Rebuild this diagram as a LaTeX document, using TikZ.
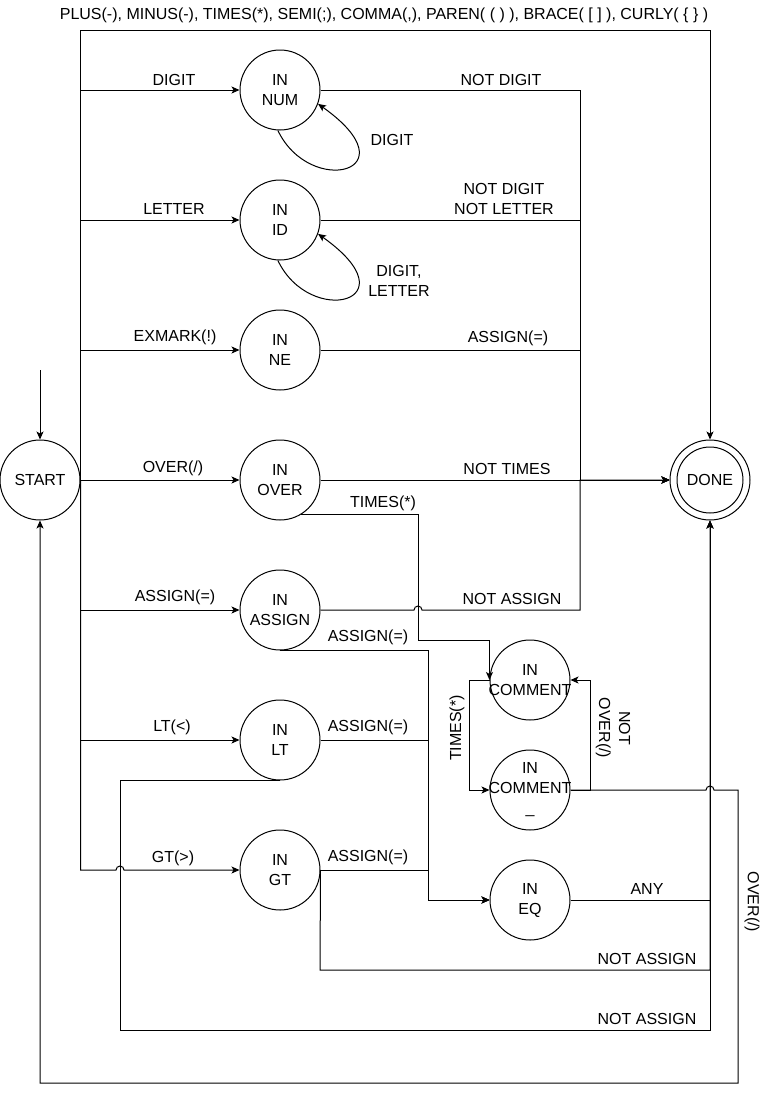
\documentclass[tikz,border=0pt]{standalone}
\usepackage{fontspec}
\setmainfont{Liberation Sans}
\usetikzlibrary{arrows.meta}
\begin{document}
\begin{tikzpicture}[x=1pt,y=-1pt,
  every node/.style={font=\fontsize{16}{20}\selectfont},
  state/.style={circle,draw,line width=1pt,minimum size=80pt,inner sep=0pt,align=center},
  wire/.style={draw,line width=1pt},
  arr/.style={wire,-{Stealth[length=8pt,width=7pt,inset=2pt]}},
  lbl/.style={inner sep=0pt,align=center}]
\fill[white] (0,0) rectangle (771,1093);
\useasboundingbox (0,0) rectangle (771,1093);

% states
\node[state] (start) at (40,480) {START};
\node[state] (num) at (280,90) {IN\\NUM};
\node[state] (id) at (280,220) {IN\\ID};
\node[state] (ne) at (280,350) {IN\\NE};
\node[state] (over) at (280,480) {IN\\OVER};
\node[state] (assign) at (280,610) {IN\\ASSIGN};
\node[state] (lt) at (280,740) {IN\\LT};
\node[state] (gt) at (280,870) {IN\\GT};
\node[state, label={[lbl]center:IN\\COMMENT}] (comment) at (530,680) {};
\node[state, label={[lbl]center:IN\\COMMENT\\\_}] (comment2) at (530,790) {};
\node[state] (eq) at (530,900) {IN\\EQ};
\node[state] (done) at (710,480) {DONE};
\draw[line width=1pt] (done.center) circle (33);

% helper coordinates
\coordinate (init) at (40,370);
\coordinate (topL) at (start.east |- {(0,30)});
\coordinate (bus) at (580,480);
\coordinate (eqbus) at (428,900);
\coordinate (gtBot) at (320,970);
\coordinate (ltBot) at (120,1030);
\coordinate (botR) at (738,1083);
\coordinate (tA) at (418,640);

% start edges
\draw[arr] (init) -- (start.north);
\draw[arr] (start.east) -- (topL) -| (done.north);
\draw[arr] (start.east) |- (num.west);
\draw[arr] (start.east) |- (id.west);
\draw[arr] (start.east) |- (ne.west);
\draw[arr] (start.east) -- (over.west);
\draw[arr] (start.east) |- (assign.west);
\draw[arr] (start.east) |- (lt.west);
\draw[arr] (start.east) |- (116,870) arc (180:360:4) -- (gt.west);

% self loops
\draw[arr] (num.-93) .. controls (310,198) and (414,172) .. (num.-20);
\draw[arr] (id.-93) .. controls (310,328) and (414,302) .. (id.-20);

% to done via bus
\draw[arr] (num.east) -| (bus) -- (done.west);
\draw[arr] (id.east) -| (bus) -- (done.west);
\draw[arr] (ne.east) -| (bus) -- (done.west);
\draw[arr] (over.east) -- (done.west);
\draw[arr] (assign.east) -- (414,610) arc (180:360:4) -- (580,610) -- (bus) -- (done.west);

% comment
\draw[arr] (over.-58) -| (tA) -| (comment.west);
\draw[arr] (comment.west) -- ++(-20,0) |- (comment2.west);
\draw[arr] (comment2.east) -- ++(20,0) |- (comment.east);
\draw[arr] (comment2.east) -- (706,790) arc (180:360:4) -| (botR) -| (start.south);

% eq
\draw[arr] (assign.south) -| (eqbus) -- (eq.west);
\draw[arr] (lt.east) -| (eqbus) -- (eq.west);
\draw[arr] (gt.east) -| (eqbus) -- (eq.west);
\draw[arr] (eq.east) -| (done.south);
\draw[arr] (gt.east) -- (gtBot) -| (done.south);
\draw[arr] (lt.south) -| (ltBot) -| (done.south);

% labels
\node[lbl] (lTop) at (384,15) {PLUS(-), MINUS(-), TIMES(*), SEMI(;), COMMA(,), PAREN( ( ) ), BRACE( [ ] ), CURLY( \{ \} )};
\node[lbl] (lDigit) at (174,80) {DIGIT};
\node[lbl] (lLetter) at (174,209) {LETTER};
\node[lbl] (lEx) at (175,337) {EXMARK(!)};
\node[lbl] (lOver) at (173,468) {OVER(/)};
\node[lbl] (lAssign) at (175,597) {ASSIGN(=)};
\node[lbl] (lLt) at (172,727) {LT(<)};
\node[lbl] (lGt) at (173,858) {GT(>)};
\node[lbl] (lNotDigit) at (501,80) {NOT DIGIT};
\node[lbl] (lNotDL) at (504,199) {NOT DIGIT\\NOT LETTER};
\node[lbl] (lNeAssign) at (508,338) {ASSIGN(=)};
\node[lbl] (lNotTimes) at (507,469) {NOT TIMES};
\node[lbl] (lTimes) at (383,503) {TIMES(*)};
\node[lbl] (lNotAssign) at (512,599) {NOT ASSIGN};
\node[lbl] (lAsAssign) at (368,637) {ASSIGN(=)};
\node[lbl] (lLtAssign) at (368,727) {ASSIGN(=)};
\node[lbl] (lGtAssign) at (368,857) {ASSIGN(=)};
\node[lbl] (lAny) at (647,889) {ANY};
\node[lbl] (lGtNot) at (647,959) {NOT ASSIGN};
\node[lbl] (lLtNot) at (647,1019) {NOT ASSIGN};
\node[lbl] (lLoop1) at (392,140) {DIGIT};
\node[lbl] (lLoop2) at (399,281) {DIGIT,\\LETTER};
\node[lbl, rotate=90] (lCTimes) at (457,728) {TIMES(*)};
\node[lbl, rotate=-90] (lNotOver) at (613,728) {NOT\\OVER(/)};
\node[lbl, rotate=-90] (lOverBack) at (752,902) {OVER(/)};
\end{tikzpicture}
\end{document}
